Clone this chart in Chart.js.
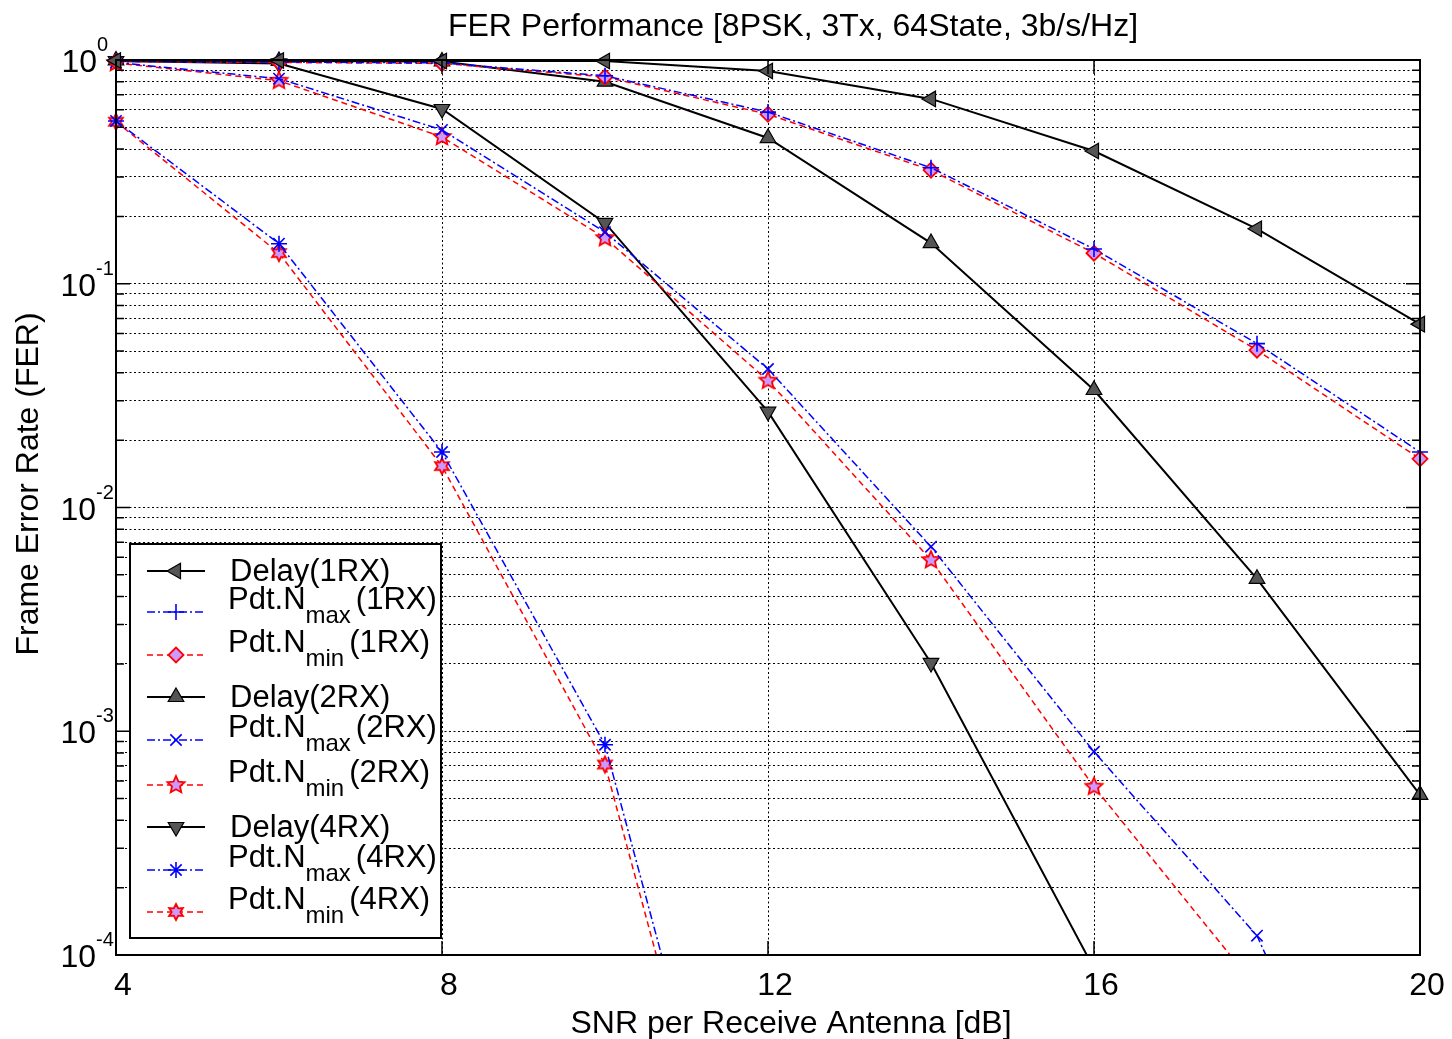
<!DOCTYPE html>
<html>
<head>
<meta charset="utf-8">
<script src="https://cdn.jsdelivr.net/npm/chart.js@4.4.1/dist/chart.umd.min.js"></script>
<style>
  html, body { margin: 0; padding: 0; background: #fff; }
  #wrap { width: 1452px; height: 1039px; }
</style>
</head>
<body>
<div id="wrap"><canvas id="fer" width="1452" height="1039"></canvas></div>
<script>
// values
const snr = [4, 6, 8, 10, 12, 14, 16, 18, 20];

const delay1RX = [0.995, 0.995, 0.99, 0.99, 0.893, 0.67, 0.392, 0.176, 0.066];
const nmax1RX  = [0.985, 0.98, 0.97, 0.85, 0.585, 0.33, 0.143, 0.054, 0.0177];
const nmin1RX  = [0.985, 0.975, 0.965, 0.84, 0.572, 0.322, 0.137, 0.0505, 0.0165];

const delay2RX = [0.995, 0.99, 0.985, 0.80, 0.448, 0.152, 0.0335, 0.0048, 0.00052];
const nmax2RX  = [0.975, 0.825, 0.487, 0.17, 0.0416, 0.00668, 0.00081, 0.000122, 0.000003];
const nmin2RX  = [0.97, 0.808, 0.453, 0.16, 0.0369, 0.00582, 0.000565, 0.000071, 0.00001];

const delay4RX = [0.99, 0.965, 0.604, 0.187, 0.0268, 0.00202, 0.000087, null, null];
const nmax4RX  = [0.534, 0.151, 0.0177, 0.00087, 0.0000017, null, null, null, null];
const nmin4RX  = [0.53, 0.137, 0.0153, 0.00071, 0.0000014, null, null, null, null];

const xTicks = [4, 8, 12, 16, 20];
const yDecades = [1e-4, 1e-3, 1e-2, 1e-1, 1];
const yExponents = ['-4', '-3', '-2', '-1', '0'];

const FONT = '"Liberation Sans", Arial, Helvetica, sans-serif';
Chart.defaults.font.family = FONT;

// grid lines at 1..9 x every decade
const yGrid = [];
for (let e = -4; e <= 0; e++) {
  for (let m = 1; m <= 9; m++) {
    const v = m * Math.pow(10, e);
    if (v <= 1.0000001) yGrid.push(v);
  }
}

// little canvases for the star-like markers the library doesn't have
function starMarker(n, rOut, rIn, stroke, fill, lw) {
  const size = Math.ceil(2 * rOut + 2 * lw + 2);
  const c = document.createElement('canvas');
  c.width = size; c.height = size;
  const g = c.getContext('2d');
  const cx = size / 2, cy = size / 2;
  g.beginPath();
  for (let i = 0; i < 2 * n; i++) {
    const r = i % 2 === 0 ? rOut : rIn;
    const a = -Math.PI / 2 + i * Math.PI / n;
    const px = cx + r * Math.cos(a), py = cy + r * Math.sin(a);
    if (i === 0) g.moveTo(px, py); else g.lineTo(px, py);
  }
  g.closePath();
  g.fillStyle = fill; g.fill();
  g.strokeStyle = stroke; g.lineWidth = lw; g.stroke();
  return c;
}
const pentagram = starMarker(5, 9, 4.2, '#ff0000', '#cc99ff', 1.8);
const hexagram = starMarker(6, 8, 4.3, '#ff0000', '#cc99ff', 1.8);

const GRAY = '#555555';
const LILAC = '#cc99ff';
const BLUE_DASH = [8, 3, 2, 3];
const RED_DASH = [6, 4];

function delaySet(label, data, rot) {
  return {
    label, data,
    borderColor: '#000', borderWidth: 2,
    pointStyle: 'triangle', pointRotation: rot, pointRadius: 9, pointHoverRadius: 9,
    pointBackgroundColor: GRAY, pointBorderColor: '#000', pointBorderWidth: 1.2,
    sub: null, name: label
  };
}
function maxSet(label, data, style, radius) {
  return {
    label, data,
    borderColor: '#0000ff', borderWidth: 1.5, borderDash: BLUE_DASH,
    pointStyle: style, pointRotation: 0, pointRadius: radius, pointHoverRadius: radius,
    pointBackgroundColor: '#0000ff', pointBorderColor: '#0000ff', pointBorderWidth: 1.6,
    sub: 'max', name: label
  };
}
function minSet(label, data, style, radius) {
  return {
    label, data,
    borderColor: '#ff0000', borderWidth: 1.5, borderDash: RED_DASH,
    pointStyle: style, pointRotation: 0, pointRadius: radius, pointHoverRadius: radius,
    pointBackgroundColor: LILAC, pointBorderColor: '#ff0000', pointBorderWidth: 1.8,
    sub: 'min', name: label
  };
}

const datasets = [
  delaySet('Delay(1RX)', delay1RX, 270),
  maxSet('(1RX)', nmax1RX, 'cross', 8),
  minSet('(1RX)', nmin1RX, 'rectRot', 7.5),
  delaySet('Delay(2RX)', delay2RX, 0),
  maxSet('(2RX)', nmax2RX, 'crossRot', 8),
  minSet('(2RX)', nmin2RX, pentagram, 9),
  delaySet('Delay(4RX)', delay4RX, 180),
  maxSet('(4RX)', nmax4RX, 'star', 8),
  minSet('(4RX)', nmin4RX, hexagram, 8)
];
datasets.forEach(d => { d.clip = { left: 14, right: 14, top: 14, bottom: 0 }; d.tension = 0; d.fill = false; });

const legendRows = [571, 612, 655, 697, 740, 785, 827, 870, 912];

const decorations = {
  id: 'decorations',
  afterDatasetsDraw(chart) {
    const { ctx, chartArea: a, scales: { x, y } } = chart;
    ctx.save();
    ctx.setLineDash([]);
    ctx.strokeStyle = '#000';
    ctx.lineWidth = 1.5;
    ctx.beginPath();
    xTicks.forEach(v => {
      const px = x.getPixelForValue(v);
      ctx.moveTo(px, a.bottom); ctx.lineTo(px, a.bottom - 14);
      ctx.moveTo(px, a.top); ctx.lineTo(px, a.top + 14);
    });
    yGrid.forEach(v => {
      const py = y.getPixelForValue(v);
      const major = yDecades.some(d => Math.abs(d - v) / d < 1e-6);
      const len = major ? 14 : 8;
      ctx.moveTo(a.left, py); ctx.lineTo(a.left + len, py);
      ctx.moveTo(a.right, py); ctx.lineTo(a.right - len, py);
    });
    ctx.stroke();
    ctx.lineWidth = 2;
    ctx.strokeRect(a.left, a.top, a.right - a.left, a.bottom - a.top);

    // legend box
    const lx = 130, ly = 544, lw = 311, lh = 394;
    ctx.fillStyle = '#fff';
    ctx.fillRect(lx, ly, lw, lh);
    ctx.lineWidth = 2;
    ctx.strokeRect(lx, ly, lw, lh);
    chart.data.datasets.forEach((ds, i) => {
      const ry = legendRows[i];
      ctx.save();
      ctx.strokeStyle = ds.borderColor;
      ctx.lineWidth = ds.borderWidth;
      ctx.setLineDash(ds.borderDash || []);
      ctx.beginPath();
      ctx.moveTo(147, ry); ctx.lineTo(205, ry);
      ctx.stroke();
      ctx.setLineDash([]);
      ctx.fillStyle = ds.pointBackgroundColor;
      ctx.strokeStyle = ds.pointBorderColor;
      ctx.lineWidth = ds.pointBorderWidth;
      Chart.helpers.drawPoint(ctx, {
        pointStyle: ds.pointStyle, rotation: ds.pointRotation,
        radius: ds.pointRadius, borderWidth: ds.pointBorderWidth
      }, 176, ry);
      ctx.restore();

      ctx.fillStyle = '#000';
      ctx.textBaseline = 'alphabetic';
      ctx.textAlign = 'left';
      if (!ds.sub) {
        ctx.font = '31px ' + FONT;
        ctx.fillText(ds.name, 230, ry + 10);
      } else {
        const base = ry - 3;
        ctx.font = '31px ' + FONT;
        ctx.fillText('Pdt.N', 228, base);
        let cx = 228 + ctx.measureText('Pdt.N').width;
        ctx.font = '24px ' + FONT;
        ctx.fillText(ds.sub, cx, base + 14);
        cx += ctx.measureText(ds.sub).width + 5;
        ctx.font = '31px ' + FONT;
        ctx.fillText(ds.name, cx, base);
      }
    });
    ctx.restore();
  },
  afterDraw(chart) {
    const { ctx, chartArea: a, scales: { x, y } } = chart;
    ctx.save();
    ctx.fillStyle = '#000';
    // x tick labels
    ctx.font = '32px ' + FONT;
    ctx.textAlign = 'center';
    ctx.textBaseline = 'alphabetic';
    xTicks.forEach(v => ctx.fillText(String(v), x.getPixelForValue(v) + 7, 995));
    // y tick labels 10^n
    yDecades.forEach((v, i) => {
      const py = y.getPixelForValue(v);
      ctx.font = '20px ' + FONT;
      ctx.textAlign = 'left';
      const expX = 97 + (yExponents[i].length > 1 ? -1 : 0);
      ctx.fillText(yExponents[i], expX, py - 9);
      ctx.font = '32px ' + FONT;
      ctx.textAlign = 'right';
      ctx.fillText('10', expX, py + 12);
    });
    // title + axis titles
    ctx.textAlign = 'center';
    ctx.font = '32px ' + FONT;
    ctx.fillText('FER Performance [8PSK, 3Tx, 64State, 3b/s/Hz]', 793, 36);
    ctx.fillText('SNR per Receive Antenna [dB]', 791, 1033);
    ctx.translate(38, 484);
    ctx.rotate(-Math.PI / 2);
    ctx.fillText('Frame Error Rate (FER)', 0, 0);
    ctx.restore();
  }
};

new Chart(document.getElementById('fer'), {
  type: 'line',
  data: { labels: snr, datasets },
  options: {
    responsive: false,
    animation: false,
    layout: { padding: { left: 116, right: 32, top: 60, bottom: 84 } },
    plugins: { legend: { display: false }, tooltip: { enabled: false } },
    scales: {
      x: {
        type: 'linear', min: 4, max: 20,
        afterBuildTicks: s => { s.ticks = xTicks.map(v => ({ value: v })); },
        afterFit: s => { s.height = 0; },
        ticks: { display: false },
        grid: { color: '#000', lineWidth: 1, drawTicks: false },
        border: { display: false, dash: [2, 2.5] }
      },
      y: {
        type: 'logarithmic', min: 1e-4, max: 1,
        afterBuildTicks: s => { s.ticks = yGrid.map(v => ({ value: v })); },
        afterFit: s => { s.width = 0; },
        ticks: { display: false },
        grid: { color: '#000', lineWidth: 1, drawTicks: false },
        border: { display: false, dash: [2, 2.5] }
      }
    }
  },
  plugins: [decorations]
});
</script>
</body>
</html>
